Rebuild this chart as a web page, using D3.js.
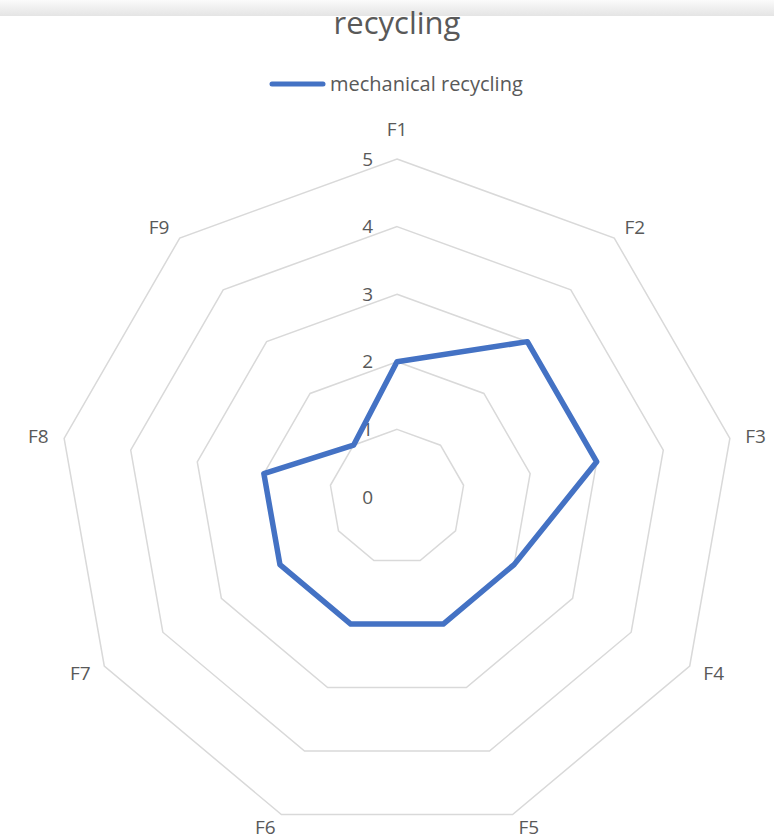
<!DOCTYPE html>
<html>
<head>
<meta charset="utf-8">
<script src="https://cdn.jsdelivr.net/npm/d3@7"></script>
<style>
  body { margin: 0; background: #fff; }
  svg { display: block; font-family: "Open Sans", sans-serif; }
</style>
</head>
<body>
<svg width="774" height="840"></svg>
<script>
var categories = ["F1", "F2", "F3", "F4", "F5", "F6", "F7", "F8", "F9"];
var values = [2, 3, 3, 2, 2, 2, 2, 2, 1];
var ticks = [0, 1, 2, 3, 4, 5];
var seriesName = "mechanical recycling";
var title = "recycling";

var svg = d3.select("svg"),
    cx = 397, cy = 497, R = 338,
    textColor = "#595959";

var r = d3.scaleLinear().domain([0, 5]).range([0, R]);
var angle = d3.scaleLinear().domain([0, categories.length]).range([0, 2 * Math.PI]);

function pt(i, v) {
  var a = angle(i);
  return [cx + r(v) * Math.sin(a), cy - r(v) * Math.cos(a)];
}

// shadow band at the top edge
var defs = svg.append("defs");
var grad = defs.append("linearGradient").attr("id", "shade")
    .attr("x1", 0).attr("y1", 0).attr("x2", 0).attr("y2", 1);
grad.append("stop").attr("offset", "0%").attr("stop-color", "#fbfbfb");
grad.append("stop").attr("offset", "100%").attr("stop-color", "#e4e4e4");
svg.append("rect").attr("x", 0).attr("y", 0).attr("width", 774).attr("height", 16)
    .attr("fill", "url(#shade)");

svg.append("text")
    .attr("x", cx).attr("y", 34)
    .attr("text-anchor", "middle")
    .style("font-size", "31px")
    .style("fill", textColor)
    .text(title);

// legend
svg.append("line")
    .attr("x1", 272).attr("x2", 323).attr("y1", 84).attr("y2", 84)
    .attr("stroke", "#4472C4").attr("stroke-width", 5).attr("stroke-linecap", "round");
svg.append("text")
    .attr("x", 330).attr("y", 91)
    .style("font-size", "20px")
    .style("fill", textColor)
    .text(seriesName);

// grid rings
var ring = d3.line();
ticks.filter(function(t) { return t > 0; }).forEach(function(t) {
  var pts = categories.map(function(c, i) { return pt(i, t); });
  svg.append("path")
      .attr("d", ring(pts) + "Z")
      .attr("fill", "none")
      .attr("stroke", "#d9d9d9")
      .attr("stroke-width", 1.5);
});

// tick labels
svg.selectAll(".tick")
    .data(ticks)
    .enter().append("text")
    .attr("class", "tick")
    .attr("x", cx - 24)
    .attr("y", function(d) { return cy - r(d); })
    .attr("dy", "0.35em")
    .attr("text-anchor", "end")
    .style("font-size", "19px")
    .style("fill", textColor)
    .text(function(d) { return d; });

// category labels
svg.selectAll(".cat")
    .data(categories)
    .enter().append("text")
    .attr("class", "cat")
    .attr("x", function(d, i) {
      var s = Math.sin(angle(i)), p = pt(i, 5);
      var sign = Math.abs(s) < 0.01 ? 0 : (s > 0 ? 1 : -1);
      return p[0] + 11 * sign + 15 * s;
    })
    .attr("y", function(d, i) {
      var s = Math.sin(angle(i)), c = Math.cos(angle(i)), p = pt(i, 5);
      var extra = Math.abs(s) < 0.01 ? 16 : 0;
      return Math.min(p[1] - 14 * c - extra, 828);
    })
    .attr("dy", "0.35em")
    .attr("text-anchor", "middle")
    .style("font-size", "19px")
    .style("fill", textColor)
    .text(function(d) { return d; });

// series
var seriesPts = values.map(function(v, i) { return pt(i, v); });
svg.append("path")
    .attr("d", ring(seriesPts) + "Z")
    .attr("fill", "none")
    .attr("stroke", "#4472C4")
    .attr("stroke-width", 5.5)
    .attr("stroke-linejoin", "round");
</script>
</body>
</html>
